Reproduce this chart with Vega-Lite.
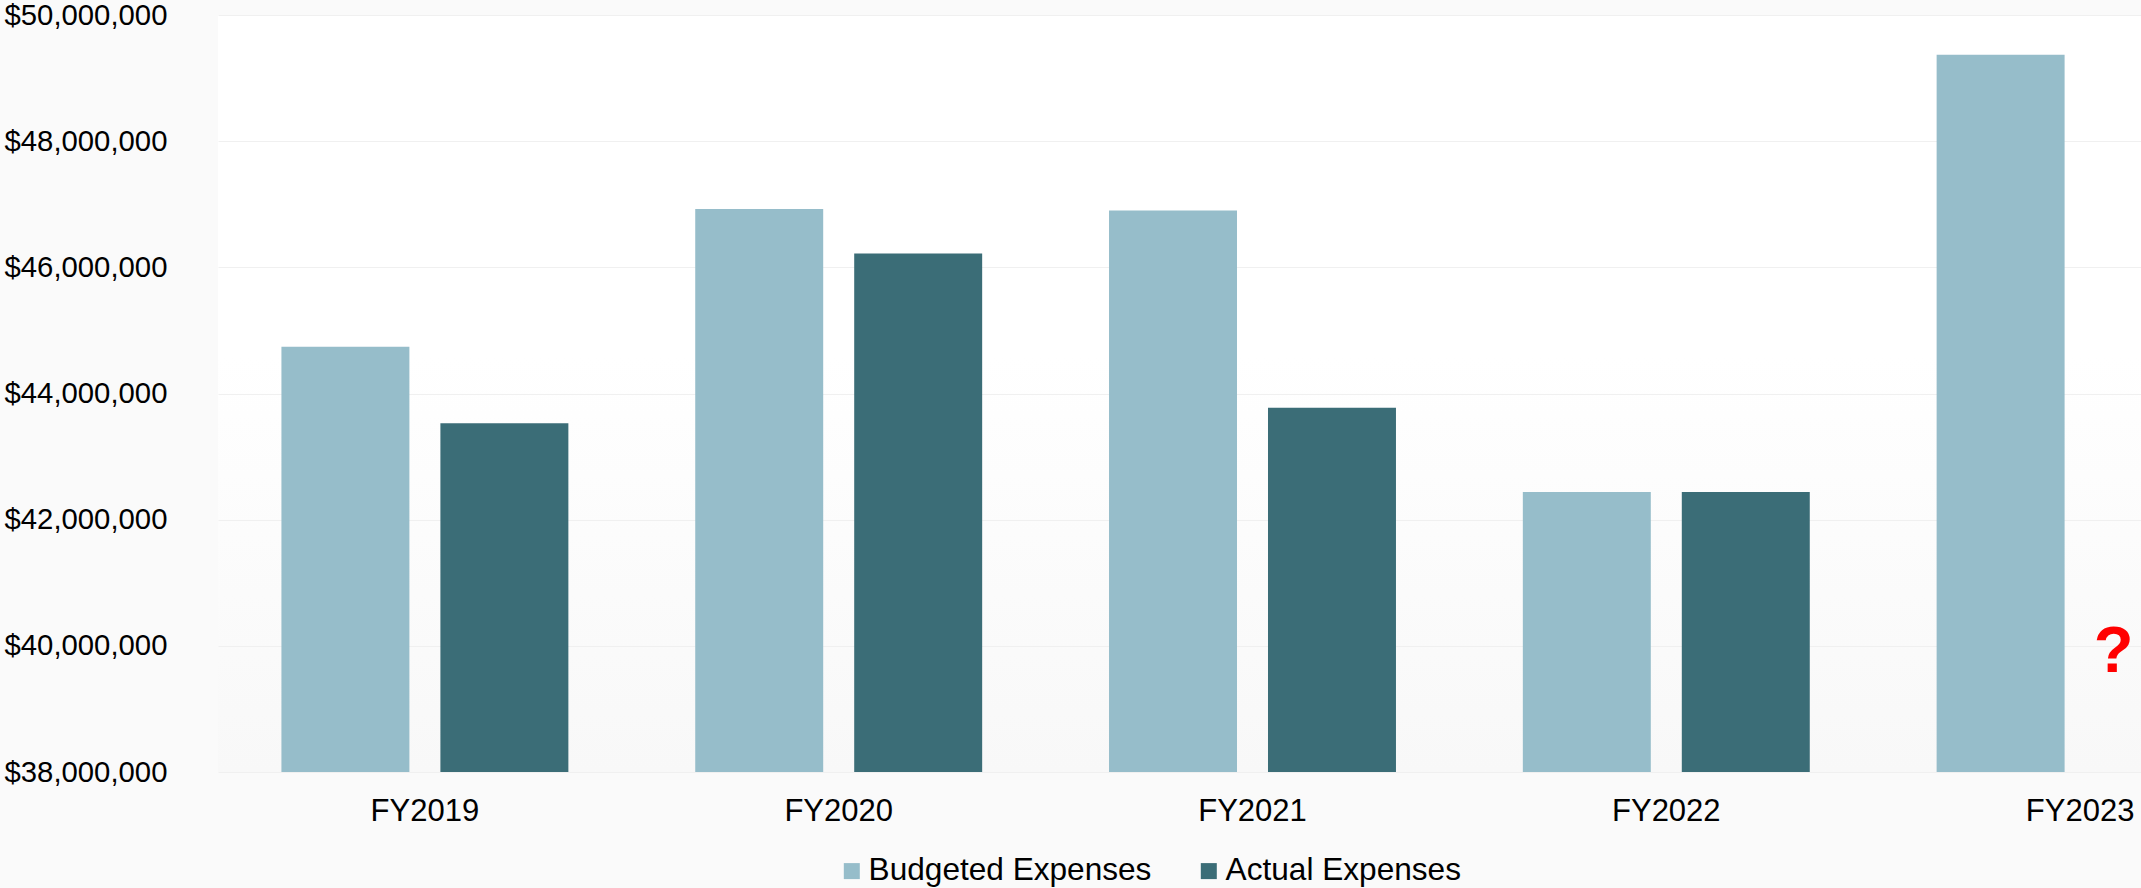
{
  "$schema": "https://vega.github.io/schema/vega-lite/v6.json",
  "autosize": {"type": "none"},
  "padding": {"left": 218, "top": 15, "right": 0, "bottom": 116},
  "width": 1923,
  "height": 757,
  "background": "#fafafa",
  "config": {
    "font": "Liberation Sans",
    "view": {"stroke": null, "fill": {"gradient": "linear", "x1": 0, "y1": 0, "x2": 0, "y2": 1, "stops": [{"offset": 0, "color": "#ffffff"}, {"offset": 0.45, "color": "#ffffff"}, {"offset": 1, "color": "#f8f8f8"}]}}
  },
  "layer": [
    {
      "data": {"values": [
        {"year": "FY2019", "type": "Budgeted Expenses", "amount": 44740000},
        {"year": "FY2019", "type": "Actual Expenses", "amount": 43530000},
        {"year": "FY2020", "type": "Budgeted Expenses", "amount": 46925000},
        {"year": "FY2020", "type": "Actual Expenses", "amount": 46220000},
        {"year": "FY2021", "type": "Budgeted Expenses", "amount": 46900000},
        {"year": "FY2021", "type": "Actual Expenses", "amount": 43775000},
        {"year": "FY2022", "type": "Budgeted Expenses", "amount": 42440000},
        {"year": "FY2022", "type": "Actual Expenses", "amount": 42440000},
        {"year": "FY2023", "type": "Budgeted Expenses", "amount": 49370000},
        {"year": "FY2023", "type": "Actual Expenses", "amount": null}
      ]},
      "mark": {"type": "bar"},
      "encoding": {
        "x": {
          "field": "year", "type": "nominal", "sort": null,
          "scale": {"range": [0, 2069], "paddingInner": 0, "paddingOuter": 0},
          "axis": {"title": null, "labelAngle": 0, "domain": false, "ticks": false, "tickSize": 0, "labelPadding": 24, "labelFontSize": 31, "labelColor": "#000000", "grid": false, "labelLimit": 400}
        },
        "xOffset": {
          "field": "type", "type": "nominal", "sort": ["Budgeted Expenses", "Actual Expenses"],
          "scale": {"paddingInner": 0.195, "paddingOuter": 0.399}
        },
        "y": {
          "field": "amount", "type": "quantitative",
          "scale": {"domain": [38000000, 50000000], "zero": false, "nice": false},
          "axis": {"title": null, "values": [38000000, 40000000, 42000000, 44000000, 46000000, 48000000, 50000000], "format": "$,.0f", "labelAlign": "left", "labelPadding": 214, "ticks": false, "tickSize": 0, "domain": false, "grid": true, "gridColor": "#f0f0f0", "gridWidth": 1, "labelFontSize": 29.3, "labelColor": "#000000", "labelLimit": 400}
        },
        "y2": {"datum": 38000000},
        "color": {
          "field": "type", "type": "nominal",
          "scale": {"domain": ["Budgeted Expenses", "Actual Expenses"], "range": ["#96BDCA", "#3B6D77"]},
          "legend": {"title": null, "orient": "none", "legendX": 618, "legendY": 840, "direction": "horizontal", "symbolType": "square", "symbolSize": 256, "symbolStrokeWidth": 0, "labelFontSize": 31.6, "labelColor": "#000000", "labelOffset": 1, "columnPadding": 41, "padding": 0, "labelLimit": 500}
        }
      }
    },
    {
      "data": {"values": [{"year": "FY2023", "note": "?", "amount": 39580000}]},
      "mark": {"type": "text", "fontSize": 65, "fontWeight": "bold", "color": "#FF0000", "baseline": "alphabetic", "align": "center"},
      "encoding": {
        "x": {"field": "year", "type": "nominal", "bandPosition": 0.581},
        "y": {"field": "amount", "type": "quantitative"},
        "text": {"field": "note"}
      }
    }
  ]
}
